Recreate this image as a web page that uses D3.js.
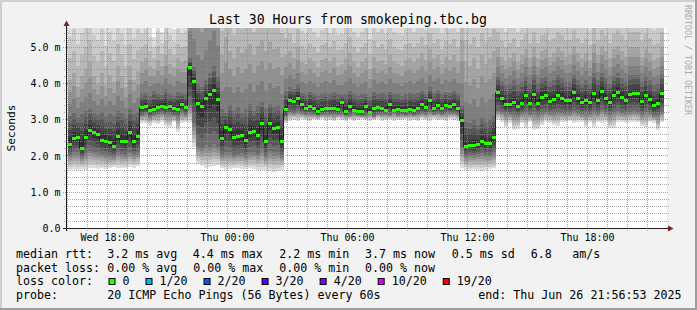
<!DOCTYPE html>
<meta charset="utf-8">
<script src="https://d3js.org/d3.v7.min.js"></script>
<style>
  body { margin: 0; background: #f2f2f2; }
  svg text { font-family: "DejaVu Sans Mono", monospace; fill: #000; }
</style>
<div id="chart"></div>
<script>

// one value per 12 minute step, milliseconds
const medianRtt = [
  2.33,2.49,2.50,2.21,2.52,2.71,2.64,2.58,2.44,2.41,2.36,2.27,2.55,2.41,2.40,2.66,2.39,2.55,
  3.33,3.36,3.25,3.29,3.35,3.38,3.34,3.36,3.31,3.29,3.41,3.33,
  4.44,4.06,3.44,3.37,3.59,3.69,3.81,3.56,
  2.48,2.78,2.73,2.52,2.55,2.56,2.43,2.66,2.69,2.57,2.91,2.39,2.91,2.77,2.80,2.39,
  3.28,3.53,3.50,3.58,3.41,3.32,3.36,3.32,3.22,3.28,3.30,3.30,3.32,3.28,3.48,3.22,3.38,3.27,3.22,3.22,
  3.38,3.20,3.32,3.33,3.31,3.26,3.43,3.27,3.29,3.25,3.27,3.29,3.26,3.32,3.41,3.35,3.54,3.30,3.40,3.31,
  3.39,3.38,3.41,3.32,
  2.98,2.25,2.30,2.28,2.31,2.39,2.34,2.34,2.50,
  3.75,3.58,3.43,3.43,3.49,3.37,3.44,3.67,3.46,3.69,3.46,3.63,3.67,3.51,3.55,3.67,3.59,3.53,3.53,3.75,
  3.59,3.48,3.54,3.47,3.72,3.53,3.79,3.58,3.48,3.67,3.76,3.63,3.54,3.70,3.72,3.72,3.50,3.68,3.56,3.39,
  3.44,3.72
];

// smoke: lowest ping, lower quartile, upper quartile, upper decile, highest ping
const pingMin = [
  1.62,1.64,1.61,1.63,1.62,1.66,1.68,1.65,1.67,1.64,1.66,1.70,1.68,1.66,1.67,1.70,1.68,1.72,
  2.92,2.90,2.84,2.92,2.88,2.95,2.83,2.80,2.93,2.66,2.90,2.94,
  2.90,2.26,1.78,1.72,1.68,1.70,1.72,1.74,
  1.66,1.62,1.64,1.66,1.68,1.65,1.63,1.66,1.64,1.62,1.60,1.62,1.58,1.56,1.58,1.62,
  2.90,2.98,3.00,2.97,3.02,3.00,2.96,3.01,2.99,3.03,2.98,3.00,2.97,3.02,3.00,2.98,3.01,2.96,3.00,3.02,
  2.99,2.97,3.00,3.03,2.98,3.00,3.01,2.97,3.00,2.99,3.02,2.98,3.00,2.97,3.01,3.00,2.98,3.02,2.99,3.00,
  2.97,3.01,3.00,2.98,
  1.68,1.62,1.60,1.63,1.61,1.58,1.62,1.64,1.66,
  3.00,2.94,2.80,2.92,2.72,2.75,2.90,2.78,2.93,2.71,2.74,2.85,2.94,2.92,2.85,2.84,2.95,2.93,2.96,2.92,
  2.94,2.95,2.80,2.93,2.80,2.94,2.92,2.95,2.76,2.78,2.93,2.95,2.92,2.94,2.95,2.93,2.82,2.80,2.94,2.92,
  2.71,2.93
];
const pingLow = [
  2.04,2.10,2.12,1.98,2.08,2.15,2.12,2.10,2.06,2.05,2.02,2.00,2.10,2.06,2.04,2.12,2.05,2.10,
  3.14,3.18,3.10,3.14,3.17,3.20,3.15,3.16,3.14,3.10,3.22,3.15,
  3.40,2.90,2.28,2.22,2.30,2.26,2.32,2.25,
  2.05,2.12,2.10,2.04,2.06,2.08,2.02,2.10,2.12,2.06,2.18,2.00,2.14,2.10,2.12,2.02,
  3.10,3.22,3.20,3.24,3.18,3.16,3.18,3.16,3.12,3.15,3.17,3.16,3.15,3.16,3.15,3.12,3.12,3.18,3.14,3.12,
  3.12,3.18,3.10,3.16,3.17,3.16,3.14,3.20,3.14,3.15,3.13,3.15,3.14,3.16,3.18,3.16,3.22,3.17,3.20,3.16,
  3.19,3.18,3.20,3.16,
  2.25,2.00,2.04,2.02,2.05,2.08,2.04,2.03,2.10,
  3.25,3.22,3.18,3.16,3.15,3.14,3.18,3.22,3.17,3.22,3.16,3.20,3.22,3.18,3.20,3.22,3.20,3.18,3.18,3.24,
  3.20,3.16,3.18,3.16,3.24,3.18,3.26,3.20,3.16,3.22,3.24,3.20,3.18,3.22,3.24,3.22,3.16,3.22,3.18,3.12,
  3.14,3.22
];
const pingHigh = [
  3.10,3.20,3.05,3.15,3.25,3.30,3.18,3.12,3.22,3.08,3.15,3.10,3.25,3.20,3.05,3.30,3.15,3.22,
  3.70,3.75,3.65,3.80,3.72,3.68,3.85,3.70,3.66,3.78,3.74,3.70,
  4.70,4.45,4.00,3.90,4.10,4.30,4.50,4.20,
  3.30,3.20,3.40,3.25,3.35,3.20,3.30,3.45,3.25,3.40,3.50,3.30,3.45,3.35,3.40,3.20,
  3.80,3.90,3.85,3.95,3.75,3.70,3.78,3.72,3.65,3.70,3.74,3.72,3.76,3.70,3.68,3.72,3.80,3.70,3.65,3.70,
  3.72,3.62,3.76,3.70,3.74,3.70,3.78,3.72,3.70,3.66,3.72,3.75,3.70,3.74,3.80,3.72,3.90,3.75,3.82,3.70,
  3.78,3.74,3.80,3.72,
  3.40,2.95,2.90,3.00,2.85,3.05,2.95,3.00,3.10,
  4.20,4.05,3.95,4.00,4.10,3.95,4.05,4.20,4.00,4.25,4.00,4.15,4.20,4.05,4.10,4.25,4.15,4.05,4.05,4.25,
  4.10,4.00,4.10,3.98,4.30,4.10,4.30,4.15,4.00,4.20,4.30,4.15,4.05,4.25,4.25,4.25,4.05,4.20,4.10,3.95,
  4.00,4.25
];
const pingUpper = [
  4.10,4.30,3.90,4.20,4.40,4.60,4.20,4.00,4.30,3.95,4.25,4.05,4.50,4.20,3.90,4.50,4.10,4.35,
  4.60,4.70,4.50,4.40,4.65,4.50,4.80,4.55,4.45,4.70,4.60,4.65,
  7.00,6.80,6.40,6.20,6.60,7.00,7.40,6.70,
  4.80,5.30,4.90,4.70,5.00,4.85,4.95,5.10,4.80,5.05,5.20,4.90,5.15,4.95,5.00,4.75,
  4.80,4.90,4.70,5.00,4.60,4.55,4.70,4.60,4.45,4.65,4.70,4.60,4.75,4.50,4.55,4.70,4.85,4.60,4.45,4.60,
  4.70,4.40,4.75,4.60,4.65,4.55,4.80,4.60,4.55,4.50,4.65,4.70,4.60,4.70,4.85,4.65,4.95,4.70,4.80,4.55,
  4.75,4.65,4.80,4.60,
  5.20,4.60,4.50,4.70,4.40,4.80,4.55,4.70,4.90,
  5.00,4.75,4.60,4.70,4.85,4.60,4.80,4.95,4.70,5.00,4.70,4.90,4.95,4.75,4.85,5.00,4.90,4.75,4.80,5.05,
  4.85,4.70,4.85,4.65,5.10,4.80,5.05,4.90,4.70,4.95,5.05,4.90,4.75,5.00,5.00,5.00,4.75,4.95,4.85,4.65,
  4.70,5.00
];
const pingMax = [
  5.90,6.10,5.70,6.00,6.20,6.40,5.90,5.80,6.10,5.60,6.00,5.75,6.30,5.95,5.65,6.30,5.85,6.10,
  5.80,5.90,5.70,5.30,5.85,5.43,5.95,5.75,5.50,5.90,5.80,5.85,
  9.00,8.50,7.80,7.50,8.00,8.50,9.00,8.20,
  6.80,7.40,6.90,6.60,7.00,6.80,6.90,7.20,6.70,7.10,7.30,6.90,7.20,6.90,7.00,6.70,
  6.20,6.40,6.00,6.50,5.90,5.80,6.00,5.85,5.70,5.90,6.00,5.80,6.05,5.75,5.80,6.00,6.20,5.85,5.70,5.85,
  6.00,5.65,6.05,5.85,5.95,5.80,6.10,5.85,5.80,5.75,5.95,6.00,5.85,6.00,6.20,5.90,6.30,6.00,6.10,5.80,
  6.05,5.95,6.10,5.85,
  7.00,6.40,6.30,6.50,6.20,6.60,6.35,6.50,6.70,
  6.30,6.00,5.85,5.95,6.10,5.85,6.05,6.25,5.95,6.30,5.95,6.20,6.25,6.00,6.10,6.30,6.20,6.00,6.05,6.35,
  6.10,5.95,6.10,5.90,6.40,6.05,6.35,6.20,5.95,6.25,6.35,6.20,6.00,6.30,6.30,6.30,6.00,6.25,6.10,5.90,
  5.95,6.30
];

const firstStep = "2025-06-25T16:00:00";
const endTime = "2025-06-26T21:56:53";
const stepMinutes = 12;

const yTicks = [0, 1, 2, 3, 4, 5];
const yTickLabels = ["0.0", "1.0 m", "2.0 m", "3.0 m", "4.0 m", "5.0 m"];

const lossLabels = ["0", "1/20", "2/20", "3/20", "4/20", "10/20", "19/20"];
const lossColors = ["#26ff00", "#00b8ff", "#0059ff", "#5e00ff", "#7e00ff", "#dd00ff", "#ff0000"];

const rttLegend = ["3.2 ms avg", "4.4 ms max", "2.2 ms min", "3.7 ms now", "0.5 ms sd", "6.8", "am/s"];
const lossLegend = ["0.00 % avg", "0.00 % max", "0.00 % min", "0.00 % now"];

// ---------------------------------------------------------------

const W = 697, H = 310;
const svg = d3.select("#chart").append("svg")
  .attr("width", W).attr("height", H);

// background + rrdtool shading
svg.append("rect").attr("width", W).attr("height", H).attr("fill", "#f2f2f2");
svg.append("rect").attr("x", 0).attr("y", 0).attr("width", W).attr("height", 2).attr("fill", "#cfcfcf");
svg.append("rect").attr("x", 0).attr("y", 0).attr("width", 2).attr("height", H).attr("fill", "#cfcfcf");
svg.append("rect").attr("x", 0).attr("y", H - 2).attr("width", W).attr("height", 2).attr("fill", "#9e9e9e");
svg.append("rect").attr("x", W - 2).attr("y", 0).attr("width", 2).attr("height", H).attr("fill", "#9e9e9e");

const parse = d3.utcParse("%Y-%m-%dT%H:%M:%S");
const tEnd = parse(endTime);
const tStart = d3.utcHour.offset(tEnd, -30);
const t0 = parse(firstStep);

const x = d3.scaleUtc().domain([tStart, tEnd]).range([66.5, 666.5]);
const y = d3.scaleLinear().domain([0, 5.53]).range([228.3, 28.3]);

const plotTop = 28, plotBottom = 228.5;

// canvas
svg.append("rect")
  .attr("x", x.range()[0]).attr("y", plotTop)
  .attr("width", x.range()[1] - x.range()[0]).attr("height", plotBottom - plotTop)
  .attr("fill", "#fff");

const defs = svg.append("defs");
defs.append("clipPath").attr("id", "plot")
  .append("rect")
  .attr("x", x.range()[0]).attr("y", plotTop)
  .attr("width", x.range()[1] - x.range()[0]).attr("height", plotBottom - plotTop);

// smokeping style grey steps: outer pings light, inner pings dark
const grey = v => d3.rgb(v, v, v).formatHex();
function grad(id, levels) {
  const g = defs.append("linearGradient").attr("id", id)
    .attr("x1", 0).attr("y1", 0).attr("x2", 0).attr("y2", 1);
  levels.forEach((v, k) => {
    g.append("stop").attr("offset", k / levels.length).attr("stop-color", grey(v));
    g.append("stop").attr("offset", (k + 1) / levels.length).attr("stop-color", grey(v));
  });
}
grad("gTop", [221, 202, 183]);
grad("gUp", [164, 145, 126]);
grad("gHigh", [107, 88, 69, 50]);
grad("gLow", [50, 69, 88, 107]);
grad("gBot", [126, 145, 164, 183, 202, 221]);

const steps = medianRtt.map((m, i) => ({
  t: d3.utcMinute.offset(t0, i * stepMinutes),
  med: m, min: pingMin[i], low: pingLow[i], high: pingHigh[i], up: pingUpper[i], max: pingMax[i]
}));
const colW = x(d3.utcMinute.offset(t0, stepMinutes)) - x(t0);

const smoke = svg.append("g").attr("clip-path", "url(#plot)");
const bands = [
  ["up", "max", "gTop"], ["high", "up", "gUp"], ["med", "high", "gHigh"],
  ["low", "med", "gLow"], ["min", "low", "gBot"]
];
bands.forEach(([lo, hi, g]) => {
  smoke.append("g").selectAll("rect")
    .data(steps)
    .join("rect")
      .attr("x", d => x(d.t))
      .attr("width", colW)
      .attr("y", d => y(d[hi]))
      .attr("height", d => Math.max(0, y(d[lo]) - y(d[hi])))
      .attr("fill", `url(#${g})`)
      .attr("shape-rendering", "crispEdges");
});

// grid on top of the smoke: one pixel on, one pixel off
const minorCol = "rgba(143,143,143,0.75)", majorCol = "rgba(222,79,79,0.65)";
function dotsH(yy, x1, x2) {
  let s = "";
  for (let xx = x1; xx < x2; xx += 2) s += `M${xx},${yy}h1v1h-1z`;
  return s;
}
function dotsV(xx, y1, y2) {
  let s = "";
  for (let yy = y1; yy < y2; yy += 2) s += `M${xx},${yy}h1v1h-1z`;
  return s;
}
const row = v => Math.floor(v);
const minorY = d3.range(0, 5.5, 0.2).filter(v => Math.abs(v - Math.round(v)) > 0.01);
const hourTicks = x.ticks(d3.utcHour.every(1));
const majorX = hourTicks.filter(d => d.getUTCHours() % 6 === 0);
const minorX = hourTicks.filter(d => d.getUTCHours() % 6 !== 0);

const grid = svg.append("g").attr("shape-rendering", "crispEdges");
grid.append("g").selectAll("path").data(minorY).join("path")
  .attr("d", d => dotsH(row(y(d)), 64, 669)).attr("fill", minorCol);
grid.append("g").selectAll("path").data(minorX).join("path")
  .attr("d", d => dotsV(row(x(d)), plotTop, 231)).attr("fill", minorCol);
grid.append("g").selectAll("path").data(yTicks.slice(1)).join("path")
  .attr("d", d => dotsH(row(y(d)), 63, 669)).attr("fill", majorCol);
grid.append("g").selectAll("path").data(majorX).join("path")
  .attr("d", d => dotsV(row(x(d)), plotTop, 232)).attr("fill", majorCol);

// median: dark step line plus a loss coloured bar per step
const medLine = d3.line()
  .x(d => d.x).y(d => d.y)
  .curve(d3.curveStepAfter);
const medPts = steps.map(d => ({ x: x(d.t), y: y(d.med) }));
const lastStep = steps[steps.length - 1];
medPts.push({ x: x(lastStep.t) + colW, y: y(lastStep.med) });
svg.append("path")
  .attr("d", medLine(medPts))
  .attr("fill", "none").attr("stroke", "#202020").attr("stroke-width", 1);
svg.append("g").selectAll("rect")
  .data(steps)
  .join("rect")
    .attr("x", d => x(d.t))
    .attr("y", d => y(d.med) - 1.5)
    .attr("width", colW)
    .attr("height", 3)
    .attr("fill", lossColors[0])
    .attr("shape-rendering", "crispEdges");

// axes
const axisCol = "#1f1f1f", arrowCol = "#801f1f";
svg.append("line").attr("x1", 66.5).attr("x2", 66.5).attr("y1", 231).attr("y2", 24)
  .attr("stroke", axisCol);
svg.append("line").attr("x1", 63).attr("x2", 670).attr("y1", 228.5).attr("y2", 228.5)
  .attr("stroke", axisCol);
svg.append("path").attr("d", "M63.5,26 L66.5,20.5 L69.5,26 Z").attr("fill", arrowCol);
svg.append("path").attr("d", "M668,225.5 L673.5,228.5 L668,231.5 Z").attr("fill", arrowCol);

// y labels
svg.append("g").selectAll("text")
  .data(yTicks)
  .join("text")
    .attr("x", 60.5)
    .attr("y", d => y(d) + 3.6)
    .attr("text-anchor", "end")
    .attr("font-size", 10)
    .text((d, i) => yTickLabels[i]);

// x labels
const fmt = d3.utcFormat("%a %H:%M");
svg.append("g").selectAll("text")
  .data(majorX)
  .join("text")
    .attr("x", d => x(d))
    .attr("y", 240.5)
    .attr("text-anchor", "middle")
    .attr("font-size", 10)
    .text(d => fmt(d));

// title and side texts
svg.append("text").attr("x", 348).attr("y", 24).attr("text-anchor", "middle")
  .attr("font-size", 13.2).text("Last 30 Hours from smokeping.tbc.bg");
svg.append("text").attr("transform", "translate(14.6,128) rotate(-90)")
  .attr("text-anchor", "middle").attr("font-size", 11.2).text("Seconds");
svg.append("text").attr("transform", "translate(684.5,5) rotate(90)")
  .attr("font-size", 8.3).style("fill", "#aaaaaa").text("RRDTOOL / TOBI OETIKER");

// legend
const lf = 11.65, cw = 7.01;
const rows = [258, 271.6, 285.3, 298.8];
function put(txt, xx, yy, anchor) {
  svg.append("text").attr("x", xx).attr("y", yy).attr("font-size", lf)
    .attr("text-anchor", anchor || "start").attr("xml:space", "preserve").text(txt);
}
put("median rtt:", 16, rows[0]);
[107.3, 192.7, 279.3, 365, 451.7, 530.7, 572.3].forEach((xx, i) => put(rttLegend[i], xx, rows[0]));
put("packet loss:", 16, rows[1]);
[107.3, 193.3, 279.3, 365].forEach((xx, i) => put(lossLegend[i], xx, rows[1]));
put("loss color:", 16, rows[2]);
let lx = 108.5;
lossLabels.forEach((lab, i) => {
  svg.append("rect").attr("x", lx + 0.5).attr("y", 278.5).attr("width", 6).attr("height", 6)
    .attr("fill", lossColors[i]).attr("stroke", "#000").attr("stroke-width", 1);
  put(lab, lx + 14, rows[2]);
  lx = lx + 14 + lab.length * cw + 16;
});
put("probe:", 16, rows[3]);
put("20 ICMP Echo Pings (56 Bytes) every 60s", 107.3, rows[3]);
put("end: Thu Jun 26 21:56:53 2025", 681.5, rows[3], "end");
</script>
